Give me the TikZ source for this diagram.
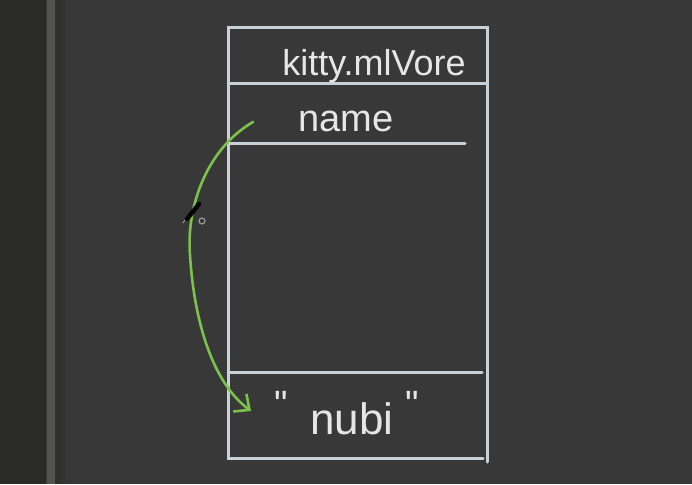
\documentclass[tikz,border=0pt]{standalone}
\usepackage{fontspec}
\setmainfont{Liberation Sans}
\usetikzlibrary{arrows.meta}
\definecolor{bgc}{HTML}{383838}
\definecolor{stripc}{HTML}{2A2B27}
\definecolor{barc}{HTML}{52534E}
\definecolor{chalk}{HTML}{C9D1D8}
\definecolor{inkc}{HTML}{E6E6E6}
\definecolor{greenc}{HTML}{7DC04C}
\tikzset{
  boxline/.style={draw=chalk, line width=3pt, line cap=round},
  handtext/.style={text=inkc, inner sep=0pt, anchor=base},
  greenarrow/.style={draw=greenc, line width=2.6pt, line cap=round, line join=round,
    -{Straight Barb[length=12pt, width=22pt, line width=2.6pt]}}
}
\begin{document}
\begin{tikzpicture}[x=1pt, y=-1pt]
\fill[bgc] (0,0) rectangle (692,484);
\useasboundingbox (0,0) rectangle (692,484);
\fill[stripc] (0,0) rectangle (46,484);
\fill[barc] (47,0) rectangle (55,484);
\fill[black!16!bgc] (55,0) rectangle (61,484);
\fill[black!9!bgc] (61,0) rectangle (66,484);
\fill[black!4!bgc] (66,0) rectangle (71,484);
% memory box
\coordinate (tl) at (228,28);
\coordinate (tr) at (487,28);
\coordinate (br) at (487,462);
\coordinate (bl) at (228,458);
\draw[boxline] (br) -- (tr) -- (tl) -- (bl) -- (483,458);
\draw[boxline] (228,84) -- (486,84);
\draw[boxline] (228,143) -- (465,143);
\draw[boxline] (228,372) -- (482,372);
% texts
\node[handtext, font=\fontsize{36}{36}\selectfont] (title) at (374,76) {kitty.mlVore};
\node[handtext, font=\fontsize{38}{38}\selectfont] (name) at (346,131) {name};
\node[handtext, font=\fontsize{38}{38}\selectfont] (oq) at (281,417) {\textquotedbl};
\node[handtext, font=\fontsize{44}{44}\selectfont] (val) at (352,434) {nubi};
\node[handtext, font=\fontsize{38}{38}\selectfont] (cq) at (412,417) {\textquotedbl};
% green arrow
\coordinate (as) at (253,122);
\coordinate (am) at (190,255);
\coordinate (ae) at (251,411);
\draw[greenarrow] (as) .. controls (208,148) and (186,205) .. (am)
  .. controls (194,320) and (212,382) .. (ae);
% pen cursor
\coordinate (pen) at (192,212);
\draw[black, line width=4.5pt, line cap=round] (187,219) -- (199,204);
\draw[gray!70, line width=0.8pt] (pen) ++(-7,8) -- ++(-2,3);
\draw[gray!80, line width=1.2pt] (202,221) circle (3pt);
\end{tikzpicture}
\end{document}
